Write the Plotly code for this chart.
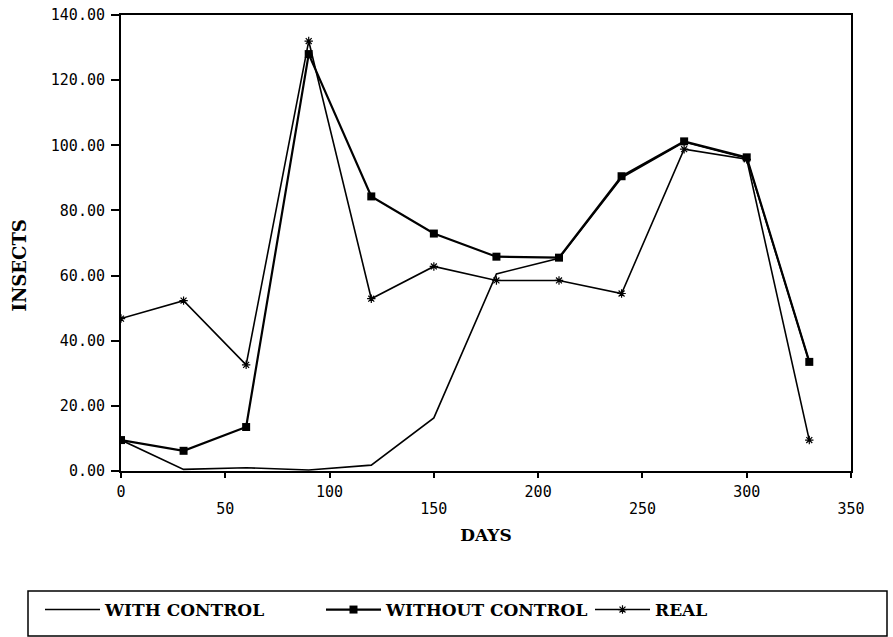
import plotly.graph_objects as go

days = [0, 30, 60, 90, 120, 150, 180, 210, 240, 270, 300, 330]
with_control = [9.5, 0.5, 1.0, 0.3, 1.8, 16.3, 60.5, 65.3, 90.0, 101.0, 96.0, 33.5]
without_control = [9.5, 6.2, 13.5, 128.0, 84.3, 72.9, 65.8, 65.5, 90.5, 101.2, 96.3, 33.5]
real = [46.8, 52.3, 32.6, 132.0, 52.9, 62.8, 58.5, 58.5, 54.5, 98.8, 95.7, 9.5]

x_ticks = [0, 50, 100, 150, 200, 250, 300, 350]
x_row1 = [0, 100, 200, 300]
x_row2 = [50, 150, 250, 350]
y_ticks = [0, 20, 40, 60, 80, 100, 120, 140]

W, H = 893, 637
L, R, T, B = 121, 42, 15, 166
pw, ph = W - L - R, H - T - B

def px_x(p):
    return (p - L) / pw

def px_y(p):
    return (H - B - p) / ph

TICKFONT = dict(family="DejaVu Sans Mono", size=15, color="black")
BOLDFONT = dict(family="DejaVu Serif", size=17, color="black", weight="bold")

fig = go.Figure()
fig.add_trace(go.Scatter(x=days, y=with_control, mode="lines", name="WITH CONTROL",
                         line=dict(color="black", width=1.6), legend="legend"))
fig.add_trace(go.Scatter(x=days, y=without_control, mode="lines+markers", name="WITHOUT CONTROL",
                         line=dict(color="black", width=2.2),
                         marker=dict(symbol="square", size=8, color="black"), legend="legend2"))
fig.add_trace(go.Scatter(x=days, y=real, mode="lines+markers", name="REAL",
                         line=dict(color="black", width=1.6),
                         marker=dict(symbol="asterisk-open", size=7, color="black",
                                     line=dict(color="black", width=1.2)), legend="legend3"))
# carrier for the second row of x tick labels
fig.add_trace(go.Scatter(x=[None], y=[None], xaxis="x2", yaxis="y", showlegend=False,
                         hoverinfo="skip"))

leg_common = dict(orientation="h", yanchor="middle", xanchor="left",
                  bgcolor="rgba(0,0,0,0)", borderwidth=0, font=BOLDFONT,
                  itemwidth=55)

fig.update_layout(
    width=W, height=H,
    margin=dict(l=L, r=R, t=T, b=B, autoexpand=False),
    paper_bgcolor="white", plot_bgcolor="white",
    showlegend=True,
    legend=dict(x=px_x(40), y=px_y(610), **leg_common),
    legend2=dict(x=px_x(321), y=px_y(610), **leg_common),
    legend3=dict(x=px_x(590), y=px_y(610), **leg_common),
    xaxis=dict(range=[0, 350], tickvals=x_ticks,
               ticktext=[str(v) if v in x_row1 else "" for v in x_ticks],
               ticks="outside", ticklen=5, tickwidth=2, tickcolor="black",
               showline=True, linecolor="black", linewidth=2, mirror=True,
               showgrid=False, zeroline=False, tickfont=TICKFONT,
               ticklabelstandoff=1,
               title=dict(text="DAYS", font=BOLDFONT, standoff=29)),
    xaxis2=dict(range=[0, 350], overlaying="x", anchor="y", side="bottom",
                tickvals=x_row2, ticktext=[str(v) for v in x_row2],
                ticks="", showline=False, showgrid=False, zeroline=False,
                tickfont=TICKFONT, ticklabelstandoff=27),
    yaxis=dict(range=[0, 140], tickvals=y_ticks, tickformat=".2f",
               ticks="outside", ticklen=8, tickwidth=2, tickcolor="black",
               showline=True, linecolor="black", linewidth=2, mirror=True,
               showgrid=False, zeroline=False, tickfont=TICKFONT,
               ticklabelstandoff=3),
    annotations=[dict(text="INSECTS", textangle=-90, xref="paper", yref="paper",
                      x=px_x(18.5), y=px_y(266), xanchor="center", yanchor="middle",
                      showarrow=False, font=dict(BOLDFONT, size=18))],
    shapes=[dict(type="rect", xref="paper", yref="paper",
                 x0=px_x(28), x1=px_x(887), y0=px_y(636), y1=px_y(591),
                 line=dict(color="black", width=1.5), fillcolor="rgba(0,0,0,0)")],
)

fig.write_html("out.html", config={"displayModeBar": False},
               post_script="document.body.style.margin='0';")
